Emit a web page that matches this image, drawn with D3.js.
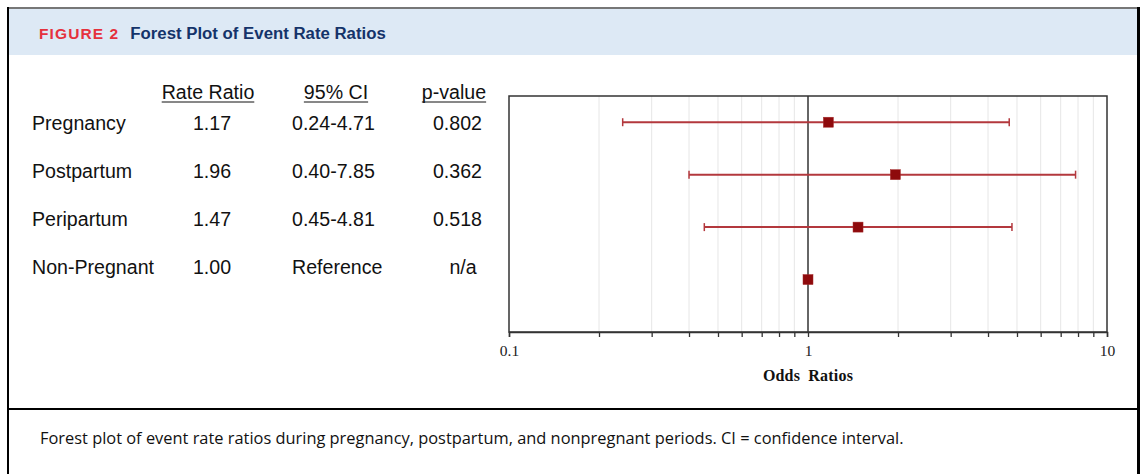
<!DOCTYPE html>
<html>
<head>
<meta charset="utf-8">
<script src="https://cdn.jsdelivr.net/npm/d3@7"></script>
<style>
  html, body { margin: 0; padding: 0; background: #fff; }
  svg { display: block; }
</style>
</head>
<body>
<div id="chart"></div>
<script>
// ---- data ----
const categories = ["Pregnancy", "Postpartum", "Peripartum", "Non-Pregnant"];
const rateRatios = [1.17, 1.96, 1.47, 1.00];
const ciLower = [0.24, 0.40, 0.45, null];
const ciUpper = [4.71, 7.85, 4.81, null];
const pValues = ["0.802", "0.362", "0.518", "n/a"];
const columnHeaders = ["Rate Ratio", "95% CI", "p-value"];
const xTickLabels = [0.1, 1, 10];
const minorTicks = [0.2, 0.3, 0.4, 0.5, 0.6, 0.7, 0.8, 0.9, 2, 3, 4, 5, 6, 7, 8, 9];
const figureLabel = "FIGURE 2";
const figureTitle = "Forest Plot of Event Rate Ratios";
const xAxisTitle = "Odds Ratios";
const caption = "Forest plot of event rate ratios during pregnancy, postpartum, and nonpregnant periods. CI = confidence interval.";

const rows = categories.map((c, i) => ({
  cat: c, rr: rateRatios[i], lo: ciLower[i], hi: ciUpper[i], p: pValues[i]
}));

const W = 1142, H = 474;
const svg = d3.select("#chart").append("svg").attr("width", W).attr("height", H);

// ---- frame ----
svg.append("rect").attr("x", 9).attr("y", 9).attr("width", 1128).attr("height", 46).attr("fill", "#dde9f5");
svg.append("line").attr("x1", 7).attr("x2", 1140).attr("y1", 8).attr("y2", 8).attr("stroke", "#777").attr("stroke-width", 2);
svg.append("line").attr("x1", 8).attr("x2", 8).attr("y1", 7).attr("y2", H).attr("stroke", "#000").attr("stroke-width", 2);
svg.append("line").attr("x1", 1138.5).attr("x2", 1138.5).attr("y1", 7).attr("y2", H).attr("stroke", "#000").attr("stroke-width", 3);
svg.append("line").attr("x1", 7).attr("x2", 1140).attr("y1", 409).attr("y2", 409).attr("stroke", "#000").attr("stroke-width", 2);

// ---- title ----
const title = svg.append("text").attr("x", 39).attr("y", 39).attr("font-family", "'Liberation Sans', Arial, sans-serif").attr("font-weight", "bold");
title.append("tspan").text(figureLabel).attr("fill", "#e5313d").attr("font-size", 15.5).attr("letter-spacing", 1.1);
title.append("tspan").text(figureTitle).attr("fill", "#14336a").attr("font-size", 16.8).attr("dx", 11);

// ---- caption ----
svg.append("text").attr("x", 40).attr("y", 444).attr("font-family", "'Open Sans', sans-serif")
  .attr("font-size", 16.4).attr("fill", "#111").text(caption);

// ---- table ----
const tableFont = "'Liberation Sans', Arial, sans-serif";
const tableY = d3.scalePoint().domain(categories).range([130, 274]);
const table = svg.append("g").attr("font-family", tableFont).attr("font-size", 19.6).attr("fill", "#111");

const headerX = [208, 336, 454];
columnHeaders.forEach((h, i) => {
  const t = table.append("text").attr("x", headerX[i]).attr("y", 98.5).attr("text-anchor", "middle").text(h);
  const w = t.node().getComputedTextLength();
  table.append("line").attr("x1", headerX[i] - w / 2).attr("x2", headerX[i] + w / 2)
    .attr("y1", 102).attr("y2", 102).attr("stroke", "#111").attr("stroke-width", 1);
});

rows.forEach(d => {
  const y = tableY(d.cat);
  table.append("text").attr("x", 32).attr("y", y).text(d.cat);
  table.append("text").attr("x", 212).attr("y", y).attr("text-anchor", "middle").text(d.rr.toFixed(2));
  table.append("text").attr("x", 292).attr("y", y)
    .text(d.lo == null ? "Reference" : d.lo.toFixed(2) + "-" + d.hi.toFixed(2));
  if (d.p === "n/a") {
    table.append("text").attr("x", 463).attr("y", y).attr("text-anchor", "middle").text(d.p);
  } else {
    table.append("text").attr("x", 482).attr("y", y).attr("text-anchor", "end").text(d.p);
  }
});

// ---- plot ----
const plotL = 509, plotR = 1107, plotT = 96, plotB = 332;
const x = d3.scaleLog().domain([0.1, 10]).range([plotL, plotR]);
const rowStep = (plotB - plotT) / 4.5;
const y = d3.scalePoint().domain(categories).range([plotT + rowStep * 0.5, plotT + rowStep * 3.5]);

const plot = svg.append("g");
// grid
plot.selectAll("line.grid").data(minorTicks).enter().append("line")
  .attr("x1", d => x(d)).attr("x2", d => x(d)).attr("y1", plotT).attr("y2", plotB)
  .attr("stroke", "#e6e6e6").attr("stroke-width", 1);

// frame
plot.append("rect").attr("x", plotL).attr("y", plotT).attr("width", plotR - plotL).attr("height", plotB - plotT)
  .attr("fill", "none").attr("stroke", "#333").attr("stroke-width", 1.5);

// axis
const axis = d3.axisBottom(x).tickValues(xTickLabels.concat(minorTicks))
  .tickSize(5).tickFormat(d => xTickLabels.includes(d) ? String(d) : "");
const ax = plot.append("g").attr("transform", `translate(0,${plotB})`).call(axis);
ax.select(".domain").attr("stroke", "#333").attr("stroke-width", 1.5);
ax.selectAll(".tick line").attr("stroke", "#333").attr("stroke-width", 1.3);
ax.selectAll(".tick text").attr("font-family", "'Liberation Serif', 'Times New Roman', serif")
  .attr("font-size", 15.5).attr("fill", "#222").attr("y", 13).attr("dy", "0.71em");

// axis title
plot.append("text").attr("x", x(1)).attr("y", 381).attr("text-anchor", "middle")
  .attr("font-family", "'Liberation Serif', 'Times New Roman', serif").attr("font-weight", "bold")
  .attr("font-size", 16).attr("letter-spacing", 0.2).attr("word-spacing", 4).attr("fill", "#111").text(xAxisTitle);

// reference line at 1
plot.append("line").attr("x1", x(1)).attr("x2", x(1)).attr("y1", plotT).attr("y2", plotB)
  .attr("stroke", "#333").attr("stroke-width", 1.5);

// whiskers
const ci = rows.filter(d => d.lo != null);
const whiskerColor = "#b3383d";
plot.selectAll("line.ci").data(ci).enter().append("line")
  .attr("x1", d => x(d.lo)).attr("x2", d => x(d.hi)).attr("y1", d => y(d.cat)).attr("y2", d => y(d.cat))
  .attr("stroke", whiskerColor).attr("stroke-width", 2);
["lo", "hi"].forEach(k => {
  plot.selectAll("line.cap" + k).data(ci).enter().append("line")
    .attr("x1", d => x(d[k])).attr("x2", d => x(d[k]))
    .attr("y1", d => y(d.cat) - 4).attr("y2", d => y(d.cat) + 4)
    .attr("stroke", whiskerColor).attr("stroke-width", 1.5);
});

// point estimates
const sq = 10;
plot.selectAll("rect.pt").data(rows).enter().append("rect")
  .attr("x", d => x(d.rr) - sq / 2).attr("y", d => y(d.cat) - sq / 2)
  .attr("width", sq).attr("height", sq).attr("fill", "#8e0a0c").attr("stroke", "#a52a2a").attr("stroke-width", 0.5);
</script>
</body>
</html>
